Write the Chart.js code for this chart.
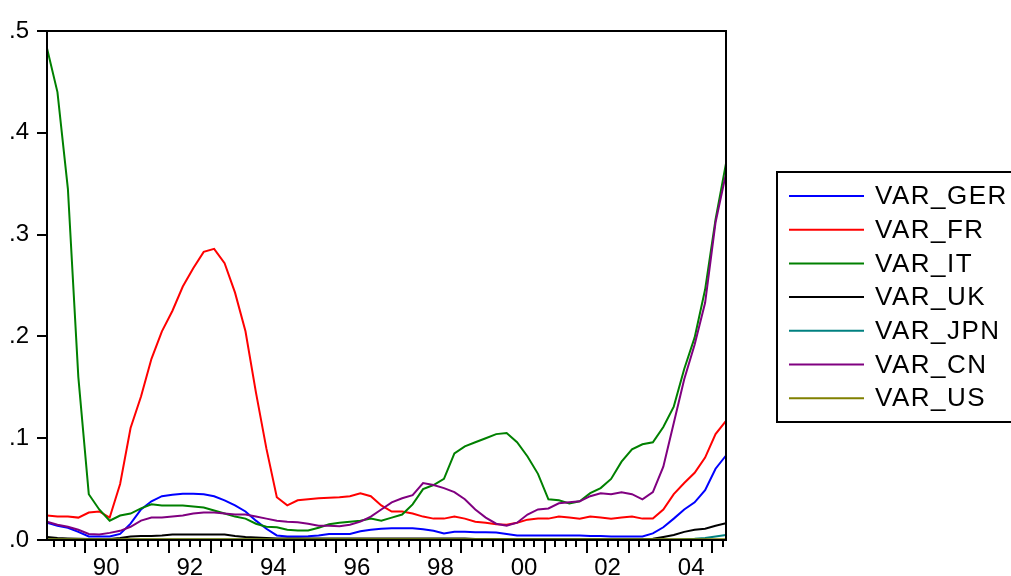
<!DOCTYPE html>
<html>
<head>
<meta charset="utf-8">
<script src="https://cdn.jsdelivr.net/npm/chart.js@4.4.1/dist/chart.umd.min.js"></script>
<style>
  html, body { margin: 0; padding: 0; background: #fff; }
  #wrap { width: 1011px; height: 576px; position: relative; }
</style>
</head>
<body>
<div id="wrap"><canvas id="varChart" width="1011" height="576"></canvas></div>
<script>
// quarterly observations, Feb 1989 .. May 2005 (x = decimal year)
const dates = Array.from({ length: 66 }, (_, k) => 1989 + 1 / 12 + k / 4);

// labels sit in the middle of the year, eviews style
const xTickYears = [1990, 1992, 1994, 1996, 1998, 2000, 2002, 2004];
const xTickLabels = ['90', '92', '94', '96', '98', '00', '02', '04'];
const yTickLabels = ['.0', '.1', '.2', '.3', '.4', '.5'];

const seriesNames = ['VAR_GER', 'VAR_FR', 'VAR_IT', 'VAR_UK', 'VAR_JPN', 'VAR_CN', 'VAR_US'];
const seriesColors = ['#0000ff', '#ff0000', '#008000', '#000000', '#008080', '#800080', '#808000'];

const varGer = [
    0.017, 0.014, 0.012, 0.008, 0.0035, 0.0035, 0.0035, 0.006, 0.016, 0.030,
    0.038, 0.043, 0.0445, 0.0455, 0.0455, 0.045, 0.043, 0.039, 0.034, 0.028,
    0.019, 0.011, 0.0045, 0.0035, 0.0035, 0.0038, 0.0044, 0.006, 0.006, 0.006,
    0.0085, 0.010, 0.011, 0.0115, 0.0116, 0.0116, 0.0105, 0.009, 0.0065, 0.008,
    0.008, 0.0077, 0.0075, 0.0074, 0.006, 0.0045, 0.0044, 0.0044, 0.0044, 0.0044,
    0.0044, 0.0044, 0.004, 0.004, 0.0035, 0.0035, 0.0035, 0.0035, 0.0065, 0.0125,
    0.021, 0.030, 0.037, 0.049, 0.070, 0.083
];
const varFr = [
    0.024, 0.023, 0.023, 0.022, 0.027, 0.028, 0.022, 0.055, 0.110, 0.141,
    0.178, 0.205, 0.225, 0.249, 0.267, 0.283, 0.286, 0.272, 0.243, 0.205,
    0.145, 0.090, 0.042, 0.034, 0.039, 0.040, 0.041, 0.0415, 0.042, 0.043,
    0.046, 0.043, 0.034, 0.028, 0.028, 0.026, 0.023, 0.021, 0.021, 0.023,
    0.021, 0.018, 0.017, 0.0155, 0.015, 0.017, 0.020, 0.021, 0.021, 0.023,
    0.022, 0.021, 0.023, 0.022, 0.021, 0.022, 0.023, 0.021, 0.021, 0.030,
    0.045, 0.056, 0.066, 0.081, 0.104, 0.117
];
const varIt = [
    0.483, 0.440, 0.345, 0.160, 0.045, 0.030, 0.019, 0.024, 0.026, 0.031,
    0.035, 0.034, 0.034, 0.034, 0.033, 0.032, 0.029, 0.026, 0.023, 0.021,
    0.016, 0.013, 0.0126, 0.010, 0.0094, 0.0094, 0.012, 0.0155, 0.017, 0.018,
    0.019, 0.021, 0.019, 0.022, 0.025, 0.035, 0.050, 0.054, 0.060, 0.085,
    0.092, 0.096, 0.100, 0.104, 0.105, 0.096, 0.082, 0.065, 0.040, 0.039,
    0.036, 0.038, 0.046, 0.051, 0.060, 0.077, 0.089, 0.094, 0.096, 0.111,
    0.131, 0.168, 0.199, 0.246, 0.315, 0.370
];
const varUk = [
    0.003, 0.002, 0.0015, 0.0012, 0.001, 0.001, 0.001, 0.002, 0.0035, 0.004,
    0.004, 0.0045, 0.0055, 0.0055, 0.0055, 0.0055, 0.0055, 0.0055, 0.004, 0.003,
    0.0025, 0.002, 0.0015, 0.0015, 0.0015, 0.0015, 0.0015, 0.0015, 0.0015, 0.0015,
    0.0015, 0.0015, 0.0015, 0.0015, 0.0015, 0.0015, 0.0015, 0.0015, 0.0015, 0.0015,
    0.0015, 0.001, 0.001, 0.001, 0.001, 0.001, 0.001, 0.001, 0.001, 0.001,
    0.001, 0.001, 0.001, 0.001, 0.001, 0.001, 0.001, 0.001, 0.0012, 0.003,
    0.005, 0.008, 0.010, 0.011, 0.014, 0.0165
];
const varJpn = [
    0.0005, 0.0005, 0.0005, 0.0005, 0.0005, 0.0005, 0.0005, 0.0005, 0.0005, 0.0005,
    0.0005, 0.0005, 0.0005, 0.0005, 0.0005, 0.0005, 0.0005, 0.0005, 0.0005, 0.0005,
    0.0005, 0.0005, 0.0005, 0.0005, 0.0005, 0.0005, 0.0005, 0.0005, 0.0005, 0.0005,
    0.0005, 0.0005, 0.0005, 0.0005, 0.0005, 0.0005, 0.0005, 0.0005, 0.0005, 0.0005,
    0.0005, 0.0005, 0.0005, 0.0005, 0.0005, 0.0005, 0.0005, 0.0005, 0.0005, 0.0005,
    0.0005, 0.0005, 0.0005, 0.0005, 0.0005, 0.0005, 0.0005, 0.0005, 0.0005, 0.0005,
    0.0006, 0.0008, 0.0012, 0.002, 0.0035, 0.005
];
const varCn = [
    0.018, 0.015, 0.013, 0.010, 0.006, 0.0055, 0.007, 0.009, 0.013, 0.019,
    0.022, 0.022, 0.023, 0.024, 0.026, 0.027, 0.027, 0.026, 0.025, 0.025,
    0.023, 0.021, 0.019, 0.018, 0.0175, 0.016, 0.014, 0.014, 0.0135, 0.015,
    0.018, 0.023, 0.030, 0.037, 0.041, 0.044, 0.056, 0.054, 0.051, 0.047,
    0.040, 0.030, 0.022, 0.016, 0.014, 0.017, 0.025, 0.030, 0.031, 0.036,
    0.037, 0.038, 0.043, 0.046, 0.045, 0.047, 0.045, 0.040, 0.047, 0.072,
    0.115, 0.158, 0.192, 0.233, 0.312, 0.360
];
const varUs = [
    0.0008, 0.0008, 0.0008, 0.0008, 0.0008, 0.0008, 0.0008, 0.0008, 0.0008, 0.0008,
    0.0008, 0.0008, 0.0008, 0.0008, 0.0008, 0.0008, 0.0008, 0.0008, 0.0008, 0.0008,
    0.0008, 0.0008, 0.0008, 0.0008, 0.0008, 0.0008, 0.0008, 0.0008, 0.0008, 0.0008,
    0.0008, 0.0008, 0.0008, 0.0008, 0.0008, 0.0008, 0.0008, 0.0008, 0.0008, 0.0008,
    0.0008, 0.0008, 0.0008, 0.0008, 0.0008, 0.0008, 0.0008, 0.0008, 0.0008, 0.0008,
    0.0008, 0.0008, 0.0008, 0.0008, 0.0008, 0.0008, 0.0008, 0.0008, 0.0008, 0.0008,
    0.0008, 0.0008, 0.0008, 0.0008, 0.0008, 0.0008
];

const seriesValues = [varGer, varFr, varIt, varUk, varJpn, varCn, varUs];

Chart.defaults.font.family = '"Liberation Sans", Arial, sans-serif';
Chart.defaults.font.size = 24;
Chart.defaults.color = '#000';

// box round the plot + quarterly/yearly tick marks under the x axis
const frameTicks = {
    id: 'frameTicks',
    afterDraw(chart) {
        const c = chart.ctx;
        const a = chart.chartArea;
        const x = chart.scales.x;
        c.save();
        c.strokeStyle = '#000';
        c.lineWidth = 2;
        c.strokeRect(a.left, a.top, a.right - a.left, a.bottom - a.top);
        for (let q = Math.ceil(x.min * 4); q <= Math.floor(x.max * 4); q++) {
            const px = Math.round(x.getPixelForValue(q / 4));
            const len = q % 4 === 0 ? 13 : 7;
            c.beginPath();
            c.moveTo(px, a.bottom);
            c.lineTo(px, a.bottom + len);
            c.stroke();
        }
        c.restore();
    }
};

// boxed legend on the right, like the eviews one
const legendBox = {
    id: 'legendBox',
    afterDraw(chart) {
        const c = chart.ctx;
        c.save();
        c.strokeStyle = '#000';
        c.lineWidth = 2;
        c.strokeRect(777, 172, 260, 250);
        c.font = '26px "Liberation Sans", Arial, sans-serif';
        c.letterSpacing = '1.5px';
        c.textBaseline = 'middle';
        c.fillStyle = '#000';
        chart.data.datasets.forEach((ds, i) => {
            const y = 196 + i * 33.7;
            c.strokeStyle = ds.borderColor;
            c.lineWidth = 2;
            c.beginPath();
            c.moveTo(789, y);
            c.lineTo(864, y);
            c.stroke();
            c.fillText(ds.label, 875, y + 1);
        });
        c.restore();
    }
};

const ctx = document.getElementById("varChart").getContext("2d");

new Chart(ctx, {
    type: 'line',
    data: {
        datasets: seriesNames.map((name, i) => ({
            label: name,
            data: dates.map((d, k) => ({ x: d, y: seriesValues[i][k] })),
            borderColor: seriesColors[i],
            backgroundColor: seriesColors[i],
            borderWidth: 2,
            pointRadius: 0,
            tension: 0,
            fill: false,
            order: seriesNames.length - i
        }))
    },
    options: {
        responsive: false,
        animation: false,
        layout: {
            padding: { left: 0, top: 31, right: 285, bottom: 0 }
        },
        scales: {
            x: {
                type: 'linear',
                min: 1989 + 1 / 12,
                max: 2005 + 4 / 12,
                afterFit: (scale) => { scale.height = 36; },
                afterBuildTicks: (scale) => {
                    scale.ticks = xTickYears.map(v => ({ value: v + 0.5 }));
                },
                grid: { display: false, drawTicks: false },
                border: { display: false },
                ticks: {
                    autoSkip: false,
                    maxRotation: 0,
                    padding: 14,
                    callback: (value, index) => xTickLabels[index]
                }
            },
            y: {
                min: 0,
                max: 0.5,
                afterFit: (scale) => { scale.width = 47; },
                grid: {
                    drawOnChartArea: false,
                    drawTicks: true,
                    tickLength: 10,
                    color: '#000',
                    lineWidth: 2
                },
                border: { display: false },
                ticks: {
                    stepSize: 0.1,
                    padding: 8,
                    callback: (value, index) => yTickLabels[index]
                }
            }
        },
        plugins: {
            legend: { display: false },
            tooltip: { enabled: false }
        }
    },
    plugins: [frameTicks, legendBox]
});
</script>
</body>
</html>
